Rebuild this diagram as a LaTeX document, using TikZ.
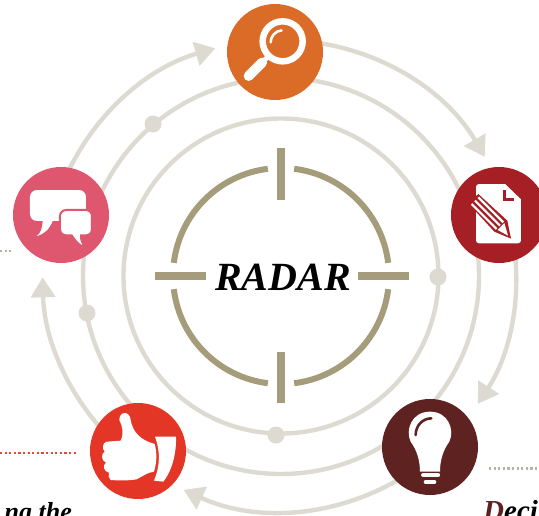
\documentclass[tikz,border=0pt]{standalone}
\usepackage{fontspec}
\setmainfont{Liberation Serif}
\usetikzlibrary{arrows.meta}
\definecolor{ringc}{HTML}{DDDBD1}
\definecolor{crossc}{HTML}{A59C7C}
\definecolor{orangec}{HTML}{DB6C27}
\definecolor{docc}{HTML}{A51F24}
\definecolor{bulbc}{HTML}{5E2320}
\definecolor{thumbc}{HTML}{E33627}
\definecolor{pinkc}{HTML}{DF566F}
\definecolor{dotgrey}{HTML}{B5B3A8}
\definecolor{dotred}{HTML}{E8453A}
\tikzset{
  ring/.style={draw=ringc,line width=4.4pt},
  flow/.style={draw=ringc,line width=4.4pt,-{Triangle[length=20pt,width=24pt]}},
  sight/.style={draw=crossc,line width=6pt},
  tick/.style={draw=crossc,line width=8pt},
  icon/.style={circle,minimum size=96pt,inner sep=0pt},
  smalldot/.style={circle,fill=ringc,minimum size=17pt,inner sep=0pt},
  lead/.style={line width=2.4pt,dash pattern=on 2.2pt off 2.4pt},
  zoomed/.style 2 args={shift={(#1,#2)},x=0.3333pt,y=-0.3333pt},
}
\begin{document}
\begin{tikzpicture}[x=1pt,y=-1pt]
\useasboundingbox (0,0) rectangle (539,515);
\clip (0,0) rectangle (539,515);
\fill[white] (0,0) rectangle (539,515);
\coordinate (c) at (281,276);
\coordinate (cfour) at (283.5,271);
% rings
\draw[ring] (c) circle[radius=157.5];
\draw[ring] (c) circle[radius=198];
% leader lines
\coordinate (l1) at (0,250.7); \coordinate (l1e) at (13,250.7);
\coordinate (l2) at (0,453); \coordinate (l2e) at (78,453);
\coordinate (l3) at (489,468.5); \coordinate (l3e) at (539,468.5);
\draw[lead,dotgrey] (l1) -- (l1e);
\draw[lead,dotred] (l2) -- (l2e);
\draw[lead,dotgrey] (l3) -- (l3e);
% outer flow arcs
\draw[flow] ([shift={(-91.5:236)}]c) arc[start angle=-91.5,end angle=-30.3,radius=236];
\draw[flow] ([shift={(-15.6:235)}]c) arc[start angle=-15.6,end angle=33.2,radius=234];
\draw[flow] ([shift={(49:235)}]c) arc[start angle=49,end angle=114.5,radius=235];
\draw[flow] ([shift={(129:241)}]cfour) arc[start angle=129,end angle=178.5,radius=241];
\draw[flow] ([shift={(195.5:237)}]c) arc[start angle=195.5,end angle=253.9,radius=237];
% small dots
\node[smalldot] (d1) at (438,277) {};
\node[smalldot] (d2) at (276,435) {};
\node[smalldot] (d3) at (87,313) {};
\node[smalldot] (d4) at (153,124) {};
% crosshair
\draw[sight] ([shift={(-83:108)}]c) arc[start angle=-83,end angle=-7,radius=108];
\draw[sight] ([shift={(7:108)}]c) arc[start angle=7,end angle=83,radius=108];
\draw[sight] ([shift={(97:108)}]c) arc[start angle=97,end angle=173,radius=108];
\draw[sight] ([shift={(187:108)}]c) arc[start angle=187,end angle=263,radius=108];
\coordinate (t1) at (281,148); \coordinate (t1e) at (281,200);
\coordinate (t2) at (281,352); \coordinate (t2e) at (281,403);
\coordinate (t3) at (155,276); \coordinate (t3e) at (206,276);
\coordinate (t4) at (358,276); \coordinate (t4e) at (409,276);
\draw[tick] (t1) -- (t1e);
\draw[tick] (t2) -- (t2e);
\draw[tick] (t3) -- (t3e);
\draw[tick] (t4) -- (t4e);
\node[inner sep=0pt,font=\fontsize{40}{40}\selectfont\bfseries\itshape] (radar) at (283,277) {RADAR};
% icons
\node[icon,fill=orangec] (search) at (275,52) {};
\node[icon,fill=docc] (doc) at (499,215) {};
\node[icon,fill=bulbc] (bulb) at (430,447) {};
\node[icon,fill=thumbc] (thumb) at (138,451) {};
\node[icon,fill=pinkc] (talk) at (61,215) {};
% magnifier
\begin{scope}[zoomed={200}{0}]
  \draw[white,line width=6.5pt] (248,124) circle[radius=60];
  \draw[white,line width=2.5pt,line cap=round] (212,127) arc[start angle=180,end angle=265,radius=36];
  \draw[white,line width=10pt,line cap=round] (146,228) -- (186,188);
  \draw[white,line width=5pt] (180,194) -- (205,169);
\end{scope}
% document
\begin{scope}[zoomed={465}{180}]
  \fill[white,rounded corners=3pt] (33,12) -- (118,12) -- (168,60) -- (168,190) -- (33,190) -- cycle;
  \fill[white] (110,12) -- (120,12) -- (168,58) -- (168,70) -- cycle;
  \draw[docc,line width=2.4pt,line join=miter] (119,30) -- (119,59) -- (148,59);
  \fill[docc] (10,70) -- (40,42) -- (127,122) -- (138,176) -- (88,155) -- cycle;
  \draw[white,line width=2.2pt] (20,72) -- (95,147);
  \draw[white,line width=2.2pt] (30,62) -- (105,137);
  \draw[white,line width=2.2pt] (40,52) -- (115,127);
  \fill[white] (98,150) -- (118,129) -- (129,167) -- cycle;
\end{scope}
% speech bubbles
\begin{scope}[zoomed={0}{150}]
  \fill[white,rounded corners=7pt] (90,120) -- (258,120) -- (258,213) -- (90,213) -- cycle;
  \fill[white] (128,208) .. controls (128,235) and (122,250) .. (110,258) .. controls (135,252) and (150,235) .. (160,208) -- cycle;
  \draw[pinkc,line width=2pt,fill=white,rounded corners=6pt] (180,180) -- (276,180) -- (276,256) -- (180,256) -- cycle;
  \fill[white] (215,250) .. controls (225,265) and (235,280) .. (247,285) .. controls (240,270) and (238,262) .. (240,250) -- cycle;
\end{scope}
% thumb
\begin{scope}[zoomed={0}{390}]
  \fill[white] (465,140) -- (528,140) .. controls (530,190) and (515,245) .. (490,275) -- (462,272) .. controls (480,230) and (482,185) .. (465,140) -- cycle;
  \fill[white] (358,90) .. controls (358,62) and (390,62) .. (392,90)
    .. controls (398,125) and (420,150) .. (464,162)
    .. controls (472,190) and (470,220) .. (462,245)
    .. controls (440,248) and (430,258) .. (410,268)
    .. controls (385,272) and (360,272) .. (332,270)
    .. controls (325,265) and (325,255) .. (327,248)
    .. controls (310,245) and (308,225) .. (318,218)
    .. controls (303,212) and (303,190) .. (314,185)
    .. controls (305,175) and (308,158) .. (320,155)
    -- (362,152) .. controls (372,130) and (368,110) .. (358,90) -- cycle;
\end{scope}
% bulb
\begin{scope}[zoomed={370}{380}]
  \fill[white] (150,275) .. controls (150,240) and (140,210) .. (122,185)
    .. controls (105,150) and (125,95) .. (180,95)
    .. controls (235,95) and (255,150) .. (238,185)
    .. controls (220,210) and (210,240) .. (210,275) -- cycle;
  \draw[bulbc,line width=2.6pt,line cap=round] (137,165) .. controls (137,135) and (160,115) .. (184,115);
  \draw[white,line width=4.4pt,line cap=round] (160,285) -- (204,285);
  \draw[white,line width=4pt,line cap=round] (167,306) -- (193,306);
\end{scope}
% clipped captions
\node[anchor=base east,inner sep=0pt,font=\fontsize{26}{26}\selectfont\bfseries\itshape] (capl) at (72,520) {ng the};
\node[anchor=base west,inner sep=0pt,font=\fontsize{29}{29}\selectfont\bfseries\itshape] (capr) at (483,520) {\textcolor{bulbc}{D}eci};
\end{tikzpicture}
\end{document}
